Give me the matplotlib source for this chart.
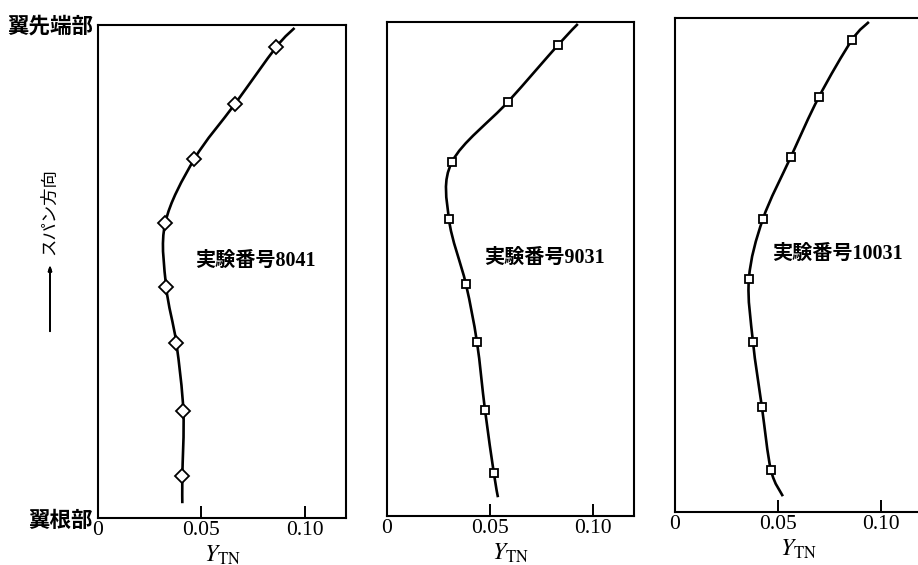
import numpy as np
import matplotlib
matplotlib.use("Agg")
import matplotlib.pyplot as plt
from matplotlib.path import Path
from matplotlib.patches import PathPatch

plt.rcParams["mathtext.fontset"] = "stix"
CJK = ["Liberation Serif", "Noto Sans CJK JP", "DejaVu Sans"]

# Spanwise station (0 = root, 1 = tip) and measured Y_TN for each run
span = [0.955, 0.840, 0.728, 0.598, 0.469, 0.355, 0.217, 0.085]

run_labels = ["実験番号8041", "実験番号9031", "実験番号10031"]
y_tn_8041 = [0.0862, 0.0663, 0.0466, 0.0325, 0.0330, 0.0379, 0.0413, 0.0408]
y_tn_9031 = [0.0830, 0.0587, 0.0316, 0.0301, 0.0383, 0.0437, 0.0476, 0.0519]
y_tn_10031 = [0.0859, 0.0699, 0.0563, 0.0427, 0.0359, 0.0379, 0.0422, 0.0466]

span_9031 = [0.953, 0.838, 0.717, 0.601, 0.470, 0.352, 0.215, 0.087]
span_10031 = [0.955, 0.840, 0.719, 0.593, 0.472, 0.344, 0.213, 0.085]

# Ends of the faired curves (tip end, root end) as (Y_TN, span)
curve_ends_8041 = [(0.0951, 0.994), (0.0408, 0.030)]
curve_ends_9031 = [(0.0927, 0.996), (0.0539, 0.038)]
curve_ends_10031 = [(0.0942, 0.992), (0.0524, 0.032)]

markers = ["D", "s", "s"]
x_ticks = [0, 0.05, 0.10]
x_tick_labels = ["0", "0.05", "0.10"]

W, H = 918, 565
fig = plt.figure(figsize=(W / 100, H / 100), dpi=100)


def px_axes(left, right, top, bottom):
    return fig.add_axes([left / W, 1 - bottom / H, (right - left) / W, (bottom - top) / H])


def smooth_path(xs, ys):
    """Catmull-Rom curve through the points, expressed as cubic Bezier segments."""
    pts = np.column_stack([xs, ys])
    n = len(pts)
    verts = [pts[0]]
    codes = [Path.MOVETO]
    for i in range(n - 1):
        p0 = pts[max(i - 1, 0)]
        p1 = pts[i]
        p2 = pts[i + 1]
        p3 = pts[min(i + 2, n - 1)]
        c1 = p1 + (p2 - p0) / 6.0
        c2 = p2 - (p3 - p1) / 6.0
        verts += [c1, c2, p2]
        codes += [Path.CURVE4] * 3
    return Path(verts, codes)


panels = [
    (px_axes(98, 346, 25, 518), span, y_tn_8041, curve_ends_8041),
    (px_axes(387, 634, 22, 516), span_9031, y_tn_9031, curve_ends_9031),
    (px_axes(675, 922, 18, 512), span_10031, y_tn_10031, curve_ends_10031),
]

for k, (ax, s, v, ends) in enumerate(panels):
    ax.set_xlim(0, 0.12)
    ax.set_ylim(0, 1)
    xs = [ends[0][0]] + list(v) + [ends[1][0]]
    ys = [ends[0][1]] + list(s) + [ends[1][1]]
    patch = PathPatch(smooth_path(xs, ys), facecolor="none", edgecolor="black",
                      lw=1.9, transform=ax.transData, zorder=2)
    ax.add_patch(patch)
    ms = 7.0 if markers[k] == "D" else 6.0
    ax.plot(v, s, linestyle="none", marker=markers[k], markersize=ms,
            markerfacecolor="white", markeredgecolor="black", markeredgewidth=1.3,
            zorder=3)
    ax.set_xticks(x_ticks)
    ax.set_xticklabels(x_tick_labels, fontfamily="Liberation Serif", fontsize=15.5)
    ax.set_yticks([])
    ax.tick_params(axis="x", direction="in", length=9, width=1.4, pad=2)
    for sp in ax.spines.values():
        sp.set_linewidth(1.5)
    ax.set_xlabel(r"$Y_{\mathrm{TN}}$", fontsize=17, labelpad=2)
    ax.text(0.047, 0.522, run_labels[k], family=CJK, fontsize=14.5,
            fontweight="bold", ha="left", va="center")

fig.text(93 / W, 1 - 27 / H, "翼先端部", family=CJK, fontsize=15.5,
         fontweight="bold", ha="right", va="center")
fig.text(93 / W, 1 - 522 / H, "翼根部", family=CJK, fontsize=15.5,
         fontweight="bold", ha="right", va="center")

fig.text(50 / W, 1 - 212 / H, "スパン方向", family=CJK, fontsize=12.5,
         rotation=90, ha="center", va="center")
fig.add_artist(plt.annotate(
    "", xy=(50 / W, 1 - 262 / H), xytext=(50 / W, 1 - 334 / H),
    xycoords="figure fraction", textcoords="figure fraction",
    arrowprops=dict(arrowstyle="-|>,head_length=0.3,head_width=0.1",
                    lw=1.3, color="black")))

fig.savefig("out.png", dpi=100)
